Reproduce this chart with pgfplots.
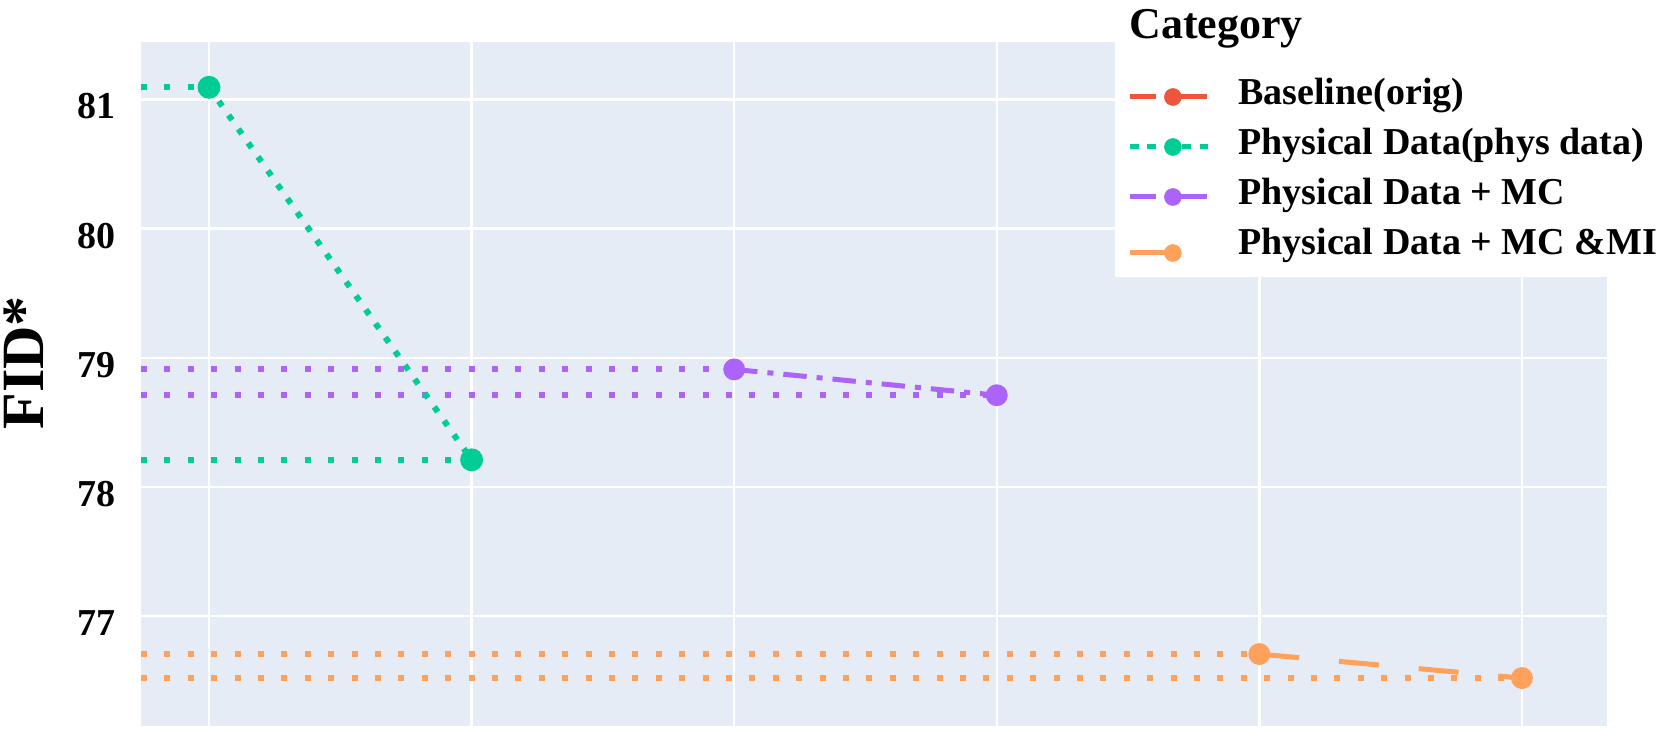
\documentclass[border=0pt]{standalone}
\usepackage{pgfplots}
\pgfplotsset{compat=1.18}
\usepackage{fontspec}
\setmainfont{Liberation Serif}
\definecolor{pbg}{HTML}{E5ECF6}
\definecolor{cred}{HTML}{EF553B}
\definecolor{cgreen}{HTML}{00CC96}
\definecolor{cpurple}{HTML}{AB63FA}
\definecolor{corange}{HTML}{FFA15A}
\begin{document}
\begin{tikzpicture}
\path[use as bounding box] (-70.5pt,-7pt) rectangle (759.5pt,363pt);
\begin{axis}[
  at={(0pt,0pt)}, anchor=south west,
  scale only axis, width=733pt, height=342pt,
  xmin=-0.259, xmax=5.324, ymin=76.149, ymax=81.445,
  axis background/.style={fill=pbg},
  axis line style={draw=none},
  major tick style={draw=none},
  xtick={0,1,2,3,4,5}, xticklabels={},
  ytick={77,78,79,80,81},
  grid=major, grid style={white, line width=1.2pt},
  /pgf/number format/assume math mode=true,
  yticklabel style={font=\fontsize{19}{19}\selectfont\bfseries, xshift=-9pt, yshift=-3.5pt},
  ylabel={FID*},
  ylabel style={font=\fontsize{30}{30}\selectfont\bfseries, at={(axis description cs:-0.0798,0.5307)}, anchor=center},
  clip=false,
  legend style={at={(axis description cs:0.6644,1.0614)}, anchor=north west,
    draw=none, fill=white, font=\fontsize{19}{19}\selectfont\bfseries,
    inner xsep=6pt, inner ysep=0pt, row sep=7pt, column sep=14pt,
    nodes={inner sep=0pt, text height=13pt, text depth=5pt}},
  legend cell align=left,
  refline/.style={line width=3pt, dash pattern=on 3pt off 8.7pt},
]
% legend entries
\addlegendimage{empty legend}
\addlegendentry[text height=19pt, text depth=13.3pt]{\hspace*{-54.5pt}\fontsize{22}{22}\selectfont Category}
\addlegendimage{legend image code/.code={
  \draw[cred, line width=2.5pt, dash pattern=on 13pt off 12.5pt] (0pt,0pt) -- (39pt,0pt);
  \fill[cred] (21.5pt,0pt) circle (4.2pt);}}
\addlegendentry{Baseline(orig)}
\addlegendimage{legend image code/.code={
  \draw[cgreen, line width=2.5pt, dash pattern=on 4.5pt off 4.2pt] (0pt,0pt) -- (39pt,0pt);
  \fill[cgreen] (21.5pt,0pt) circle (4.2pt);}}
\addlegendentry{Physical Data(phys data)}
\addlegendimage{legend image code/.code={
  \draw[cpurple, line width=2.5pt, dash pattern=on 13pt off 12.5pt] (0pt,0pt) -- (39pt,0pt);
  \fill[cpurple] (21.5pt,0pt) circle (4.2pt);}}
\addlegendentry{Physical Data + MC}
\addlegendimage{legend image code/.code={
  \draw[corange, line width=2.5pt] (0pt,0pt) -- (21.5pt,0pt);
  \fill[corange] (21.5pt,0pt) circle (4.2pt);
  \path (39pt,0pt);}}
\addlegendentry[text depth=11pt]{Physical Data + MC \&MI}

% reference dotted lines
\addplot[forget plot, cgreen, refline] coordinates {(-0.259,81.094) (0,81.094)};
\addplot[forget plot, cgreen, refline] coordinates {(-0.259,78.21) (1,78.21)};
\addplot[forget plot, cpurple, refline] coordinates {(-0.259,78.91) (2,78.91)};
\addplot[forget plot, cpurple, refline] coordinates {(-0.259,78.71) (3,78.71)};
\addplot[forget plot, corange, refline] coordinates {(-0.259,76.706) (4,76.706)};
\addplot[forget plot, corange, refline] coordinates {(-0.259,76.52) (5,76.52)};

% series
\addplot[forget plot, cgreen, line width=3pt, dash pattern=on 3pt off 5.5pt, mark=*, mark size=4.2pt, mark options={solid}] coordinates {(0,81.094) (1,78.21)};
\addplot[forget plot, cpurple, line width=2.5pt, dash pattern=on 11.7pt off 5pt on 3pt off 5pt, mark=*, mark size=4.2pt, mark options={solid}] coordinates {(2,78.91) (3,78.71)};
\addplot[forget plot, corange, line width=2.5pt, dash pattern=on 20pt off 20pt, mark=*, mark size=4.2pt, mark options={solid}] coordinates {(4,76.706) (5,76.52)};
\end{axis}
\end{tikzpicture}
\end{document}
